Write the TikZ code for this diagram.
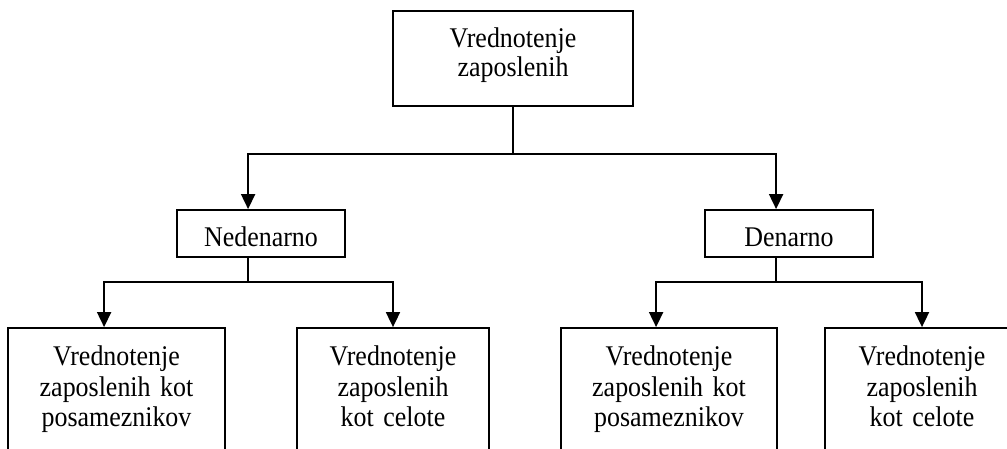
\documentclass[tikz,border=0pt]{standalone}
\usepackage{fontspec}
\setmainfont{Liberation Serif}[FakeStretch=0.91]
\usetikzlibrary{arrows.meta,calc}
\begin{document}
\begin{tikzpicture}[x=1pt,y=-1pt,
  box/.style={draw,line width=1.8pt,rectangle,inner sep=0pt},
  wire/.style={line width=1.8pt},
  arr/.style={wire,-{Triangle[length=15pt,width=14pt]}},
  caption/.style={anchor=base,inner sep=0pt,text width=210pt,align=center,
    font=\fontsize{28.5pt}{30.5pt}\selectfont},
]
\useasboundingbox (0,0) rectangle (1007,448);
\begin{scope}
\clip (0,0) rectangle (1007,448);

% boxes
\node[box,minimum width=240pt,minimum height=95pt] (root) at (513,58.5) {};
\node[box,minimum width=168pt,minimum height=47pt] (ned) at (261,233.5) {};
\node[box,minimum width=168pt,minimum height=47pt] (den) at (789,233.5) {};
\node[box,minimum width=217pt,minimum height=122pt] (a) at (116.5,389) {};
\node[box,minimum width=192pt,minimum height=122pt] (b) at (393,389) {};
\node[box,minimum width=216pt,minimum height=122pt] (c) at (669,389) {};
\node[box,minimum width=194pt,minimum height=122pt] (d) at (922,389) {};

% texts
\node[caption,font=\fontsize{28.5pt}{28.5pt}\selectfont] (troot) at (513,47.7) {Vrednotenje\\zaposlenih};
\node[caption] (tned) at (261,246.5) {Nedenarno};
\node[caption] (tden) at (789,246.5) {Denarno};
\node[caption] (ta) at (116.5,365.7) {Vrednotenje\\zaposlenih kot\\posameznikov};
\node[caption] (tb) at (393,365.7) {Vrednotenje\\zaposlenih\\kot celote};
\node[caption] (tc) at (669,365.7) {Vrednotenje\\zaposlenih kot\\posameznikov};
\node[caption] (td) at (922,365.7) {Vrednotenje\\zaposlenih\\kot celote};

% connectors from the top box
\coordinate (hub) at (513,154);
\coordinate (nedIn) at ([xshift=72pt]ned.north west);
\coordinate (denIn) at ([xshift=72pt]den.north west);
\draw[wire] (root.south) -- (hub);
\draw[arr] (hub) -| (nedIn);
\draw[arr] (hub) -| (denIn);

% connectors from Nedenarno
\coordinate (nedOut) at ([xshift=72pt]ned.south west);
\coordinate (nedHub) at ($(nedOut)+(0,24)$);
\coordinate (aIn) at ([xshift=97pt]a.north west);
\draw[wire] (nedOut) -- (nedHub);
\draw[arr] (nedHub) -| (aIn);
\draw[arr] (nedHub) -| (b.north);

% connectors from Denarno
\coordinate (denOut) at ([xshift=72pt]den.south west);
\coordinate (denHub) at ($(denOut)+(0,24)$);
\coordinate (cIn) at ([xshift=96pt]c.north west);
\draw[wire] (denOut) -- (denHub);
\draw[arr] (denHub) -| (cIn);
\draw[arr] (denHub) -| (d.north);
\end{scope}
\end{tikzpicture}
\end{document}
